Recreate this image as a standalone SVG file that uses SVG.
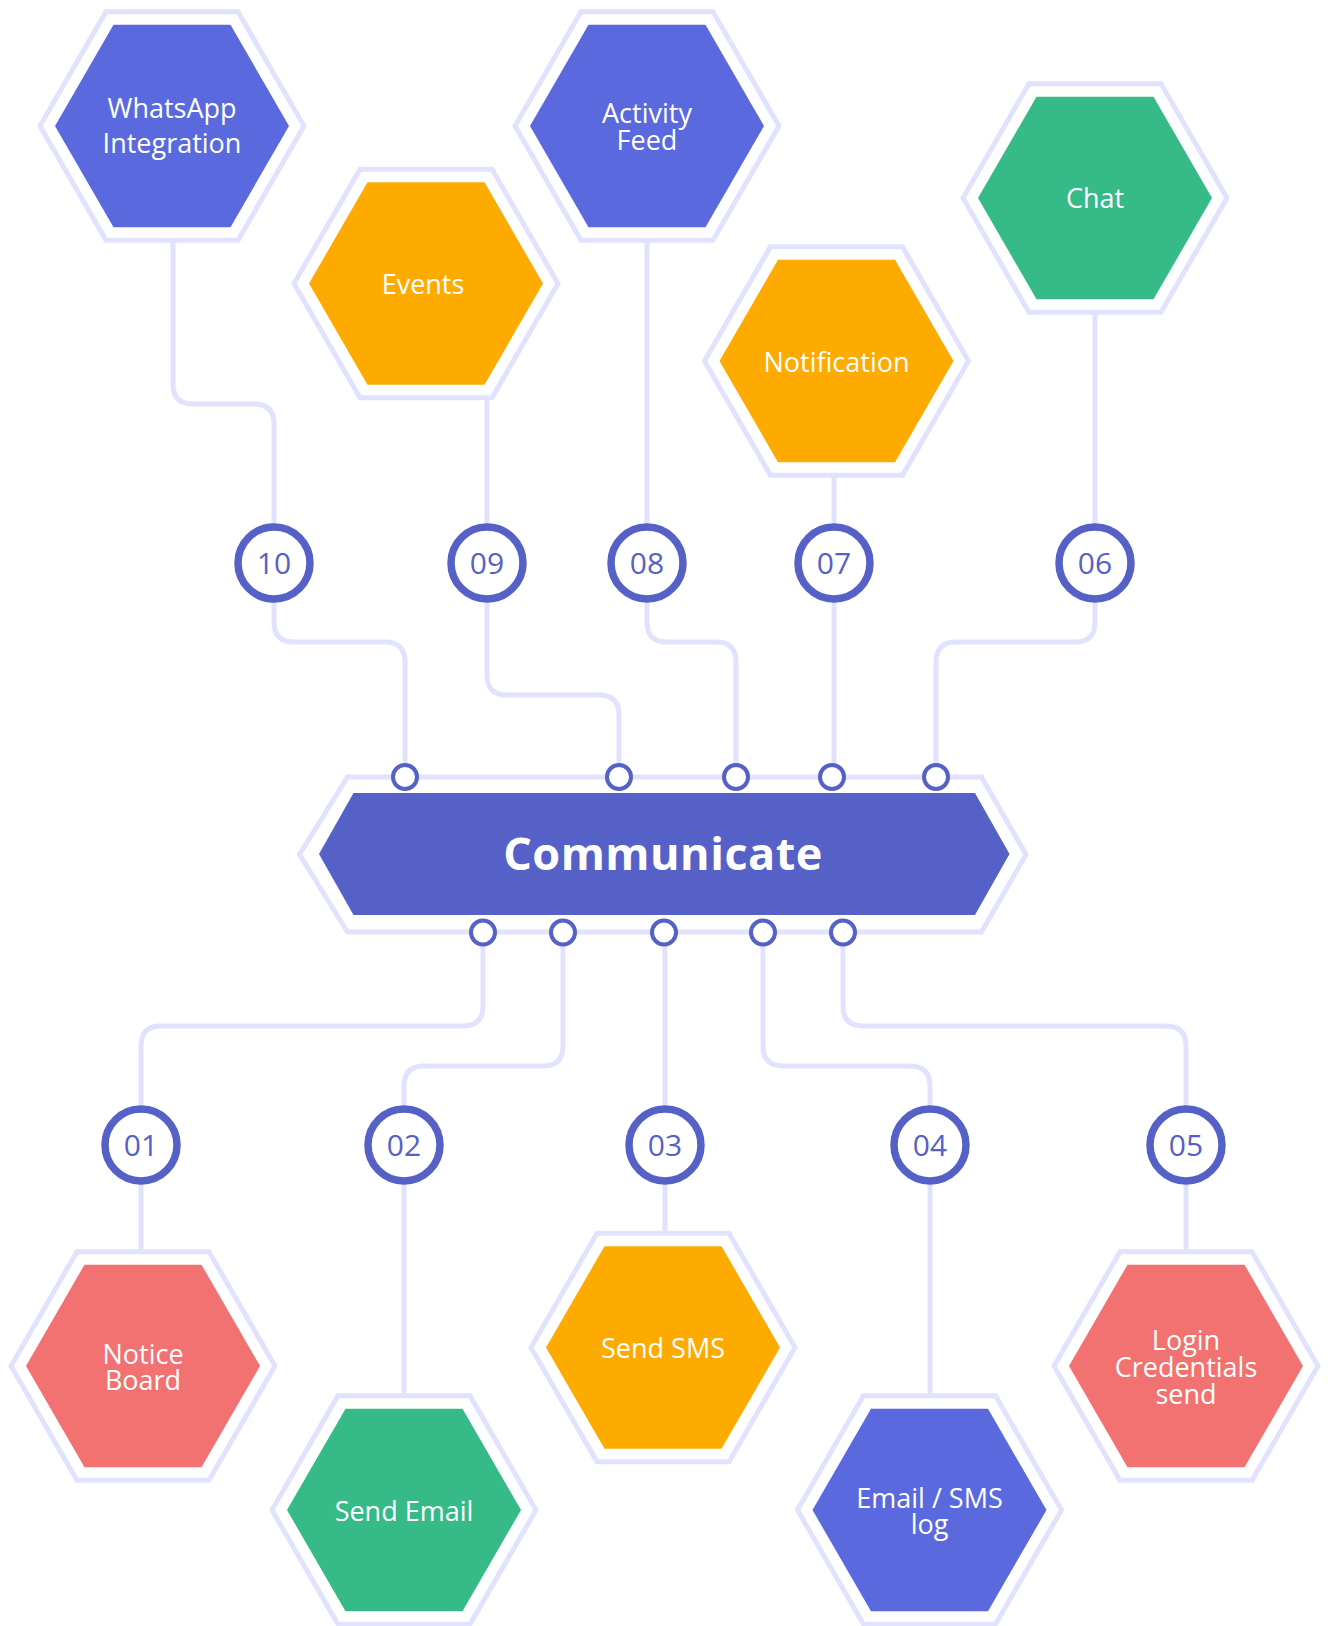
<svg xmlns="http://www.w3.org/2000/svg" width="1328" height="1626" viewBox="0 0 1328 1626">
<defs>
<style>
.bg{fill:#ffffff}
.ring{fill:none;stroke:#e1e2fe;stroke-width:5;stroke-linejoin:miter}
.blue{fill:#5a69de}
.orange{fill:#fdab00}
.green{fill:#36ba88}
.red{fill:#f27171}
.dark{fill:#5561c6}
.lbl{font-family:"Open Sans","Liberation Sans",sans-serif;font-size:27px;fill:#ffffff;text-anchor:middle}
.title{font-family:"Open Sans","Liberation Sans",sans-serif;font-size:45px;font-weight:700;fill:#ffffff;text-anchor:middle;letter-spacing:0.5px}
.conn{fill:none;stroke:#e1e2fe;stroke-width:5}
.num{fill:#ffffff;stroke:#5561c6;stroke-width:7.5}
.numt{font-family:"Open Sans","Liberation Sans",sans-serif;font-size:30px;fill:#5561c6;text-anchor:middle}
.dot{fill:#ffffff;stroke:#5561c6;stroke-width:4}
</style>
<polygon id="hexOuter" points="-132,0 -66,-114.3 66,-114.3 132,0 66,114.3 -66,114.3"/>
<polygon id="hexInner" points="-117,0 -58.5,-101.3 58.5,-101.3 117,0 58.5,101.3 -58.5,101.3"/>
</defs>
<rect class="bg" x="0" y="0" width="1328" height="1626"/>

<g id="connectors">
<path class="conn" d="M173,241 V384 Q173,404 193,404 H254 Q274,404 274,424 V622 Q274,642 294,642 H385 Q405,642 405,662 V777"/>
<path class="conn" d="M487,398 V675 Q487,695 507,695 H599 Q619,695 619,715 V777"/>
<path class="conn" d="M647,241 V622 Q647,642 667,642 H716 Q736,642 736,662 V777"/>
<path class="conn" d="M834,475 V777"/>
<path class="conn" d="M1095,312 V622 Q1095,642 1075,642 H956 Q936,642 936,662 V777"/>
<path class="conn" d="M483,933 V1006 Q483,1026 463,1026 H161 Q141,1026 141,1046 V1252"/>
<path class="conn" d="M563,933 V1046 Q563,1066 543,1066 H424 Q404,1066 404,1086 V1396"/>
<path class="conn" d="M665,933 V1234"/>
<path class="conn" d="M763,933 V1046 Q763,1066 783,1066 H910 Q930,1066 930,1086 V1396"/>
<path class="conn" d="M843,933 V1006 Q843,1026 863,1026 H1166 Q1186,1026 1186,1046 V1252"/>
</g>

<g id="node-communicate">
<polygon class="ring" points="299.5,854.5 347.5,777 981.5,777 1026,854.5 981.5,932 347.5,932"/>
<polygon class="dark" points="319,854 353.5,793 975,793 1009.5,854 975,915 353.5,915"/>
<text class="title" x="663" y="870">Communicate</text>
<circle class="dot" cx="405" cy="777" r="12"/>
<circle class="dot" cx="619" cy="777" r="12"/>
<circle class="dot" cx="736" cy="777" r="12"/>
<circle class="dot" cx="832" cy="777" r="12"/>
<circle class="dot" cx="936" cy="777" r="12"/>
<circle class="dot" cx="483" cy="932.5" r="12"/>
<circle class="dot" cx="563" cy="932.5" r="12"/>
<circle class="dot" cx="664" cy="932.5" r="12"/>
<circle class="dot" cx="763" cy="932.5" r="12"/>
<circle class="dot" cx="843" cy="932.5" r="12"/>
</g>

<g id="node-whatsapp" transform="translate(172,126)">
<use href="#hexOuter" class="ring"/>
<use href="#hexInner" class="blue"/>
<text class="lbl" x="0" y="-8">WhatsApp</text>
<text class="lbl" x="0" y="27">Integration</text>
</g>
<g id="node-events" transform="translate(426,283.5)">
<use href="#hexOuter" class="ring"/>
<use href="#hexInner" class="orange"/>
<text class="lbl" x="-3" y="10">Events</text>
</g>
<g id="node-activity" transform="translate(647,126)">
<use href="#hexOuter" class="ring"/>
<use href="#hexInner" class="blue"/>
<text class="lbl" x="0" y="-3">Activity</text>
<text class="lbl" x="0" y="24">Feed</text>
</g>
<g id="node-notification" transform="translate(836.5,361)">
<use href="#hexOuter" class="ring"/>
<use href="#hexInner" class="orange"/>
<text class="lbl" x="0" y="10.5">Notification</text>
</g>
<g id="node-chat" transform="translate(1095,198)">
<use href="#hexOuter" class="ring"/>
<use href="#hexInner" class="green"/>
<text class="lbl" x="0" y="10">Chat</text>
</g>

<g id="node-notice" transform="translate(143,1366)">
<use href="#hexOuter" class="ring"/>
<use href="#hexInner" class="red"/>
<text class="lbl" x="0" y="-2.5">Notice</text>
<text class="lbl" x="0" y="24">Board</text>
</g>
<g id="node-email" transform="translate(404,1510)">
<use href="#hexOuter" class="ring"/>
<use href="#hexInner" class="green"/>
<text class="lbl" x="0" y="10.5">Send Email</text>
</g>
<g id="node-sms" transform="translate(663,1347.5)">
<use href="#hexOuter" class="ring"/>
<use href="#hexInner" class="orange"/>
<text class="lbl" x="0" y="10.5">Send SMS</text>
</g>
<g id="node-log" transform="translate(929.5,1510)">
<use href="#hexOuter" class="ring"/>
<use href="#hexInner" class="blue"/>
<text class="lbl" x="0" y="-2">Email / SMS</text>
<text class="lbl" x="0" y="24">log</text>
</g>
<g id="node-login" transform="translate(1186,1366)">
<use href="#hexOuter" class="ring"/>
<use href="#hexInner" class="red"/>
<text class="lbl" x="0" y="-16">Login</text>
<text class="lbl" x="0" y="11">Credentials</text>
<text class="lbl" x="0" y="37.5">send</text>
</g>

<g id="node-n10"><circle class="num" cx="274" cy="563" r="36"/><text class="numt" x="274" y="574">10</text></g>
<g id="node-n09"><circle class="num" cx="487" cy="563" r="36"/><text class="numt" x="487" y="574">09</text></g>
<g id="node-n08"><circle class="num" cx="647" cy="563" r="36"/><text class="numt" x="647" y="574">08</text></g>
<g id="node-n07"><circle class="num" cx="834" cy="563" r="36"/><text class="numt" x="834" y="574">07</text></g>
<g id="node-n06"><circle class="num" cx="1095" cy="563" r="36"/><text class="numt" x="1095" y="574">06</text></g>
<g id="node-n01"><circle class="num" cx="141" cy="1145" r="36"/><text class="numt" x="141" y="1156">01</text></g>
<g id="node-n02"><circle class="num" cx="404" cy="1145" r="36"/><text class="numt" x="404" y="1156">02</text></g>
<g id="node-n03"><circle class="num" cx="665" cy="1145" r="36"/><text class="numt" x="665" y="1156">03</text></g>
<g id="node-n04"><circle class="num" cx="930" cy="1145" r="36"/><text class="numt" x="930" y="1156">04</text></g>
<g id="node-n05"><circle class="num" cx="1186" cy="1145" r="36"/><text class="numt" x="1186" y="1156">05</text></g>
</svg>
